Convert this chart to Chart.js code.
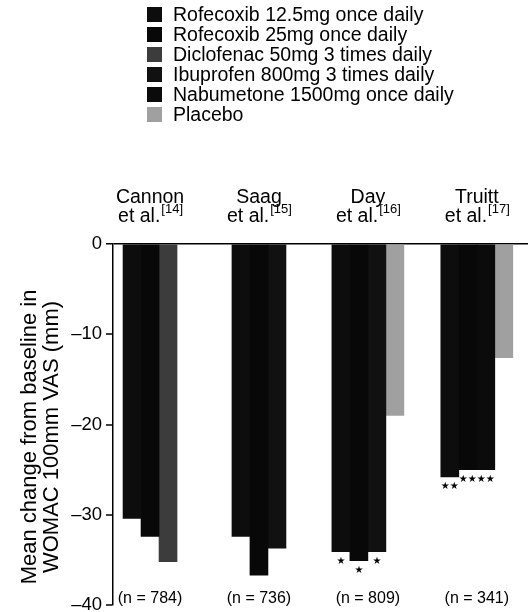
<!DOCTYPE html>
<html>
<head>
<meta charset="utf-8">
<script src="https://cdn.jsdelivr.net/npm/chart.js@4/dist/chart.umd.min.js"></script>
<style>
  html, body { margin: 0; padding: 0; background: #fff; }
  #wrap { position: relative; width: 528px; height: 612px; }
  #legend { position: absolute; left: 147px; top: 4px; font: 19.5px "Liberation Sans", Arial, sans-serif; color: #000; }
  #legend .row { display: flex; align-items: center; height: 20px; }
  #legend .sw { width: 15px; height: 15px; margin-right: 11px; }
</style>
</head>
<body>
<div id="wrap">
  <canvas id="chart" width="528" height="612"></canvas>
  <div id="legend"></div>
</div>
<script>
"use strict";

/* ─── DATA ─── */
const studies = ["Cannon", "Saag", "Day", "Truitt"];
const refs = ["[14]", "[15]", "[16]", "[17]"];
const nPatients = [784, 736, 809, 341];
const studyIndex = [0, 1, 2, 3];

const drugs = [
  "Rofecoxib 12.5mg once daily",
  "Rofecoxib 25mg once daily",
  "Diclofenac 50mg 3 times daily",
  "Ibuprofen 800mg 3 times daily",
  "Nabumetone 1500mg once daily",
  "Placebo",
];
const rofe125 = [-30.4, -32.4, -34.1, -25.8];
const rofe25 = [-32.4, -36.7, -35.1, -25.0];
const diclofenac = [-35.2, null, null, null];
const ibuprofen = [null, -33.7, -34.1, null];
const nabumetone = [null, null, null, -25.0];
const placebo = [null, null, -19.0, -12.6];

// significance marks under bars
const sigRofe125 = ["", "", "*", "**"];
const sigRofe25 = ["", "", "*", "**"];
const sigIbuprofen = ["", "", "*", ""];
const sigNabumetone = ["", "", "", "**"];

const yTicks = [0, -10, -20, -30, -40];
const yTitle = ["Mean change from baseline in", "WOMAC 100mm VAS (mm)"];

/* ─── STYLE ─── */
const FONT = "'Liberation Sans', Arial, sans-serif";
const colors = ["#0d0d0d", "#080808", "#3c3c3c", "#111111", "#0b0b0b", "#a0a0a0"];
const seriesValues = [rofe125, rofe25, diclofenac, ibuprofen, nabumetone, placebo];
const seriesSig = [sigRofe125, sigRofe25, [], sigIbuprofen, sigNabumetone, []];

/* ─── LEGEND (html) ─── */
const legendEl = document.getElementById("legend");
drugs.forEach((d, i) => {
  const row = document.createElement("div");
  row.className = "row";
  row.innerHTML = `<span class="sw" style="background:${colors[i]}"></span><span>${d}</span>`;
  legendEl.appendChild(row);
});

/* ─── ANNOTATIONS PLUGIN ─── */
const annotations = {
  id: "annotations",
  afterDatasetsDraw(chart) {
    const { ctx, scales: { x } } = chart;
    ctx.save();
    ctx.fillStyle = "#000";
    ctx.textAlign = "center";
    ctx.textBaseline = "alphabetic";
    studies.forEach((s, i) => {
      const cx = x.getPixelForValue(studyIndex[i]);
      ctx.font = "19.5px " + FONT;
      ctx.fillText(s, cx, 203);
      const main = "et al.";
      const mw = ctx.measureText(main).width;
      ctx.font = "13px " + FONT;
      const sw = ctx.measureText(refs[i]).width;
      const left = cx - (mw + sw) / 2;
      ctx.textAlign = "left";
      ctx.font = "19.5px " + FONT;
      ctx.fillText(main, left, 222);
      ctx.font = "13px " + FONT;
      ctx.fillText(refs[i], left + mw + 1, 213);
      ctx.textAlign = "center";
      ctx.font = "16px " + FONT;
      ctx.fillText("(n = " + nPatients[i] + ")", cx, 603);
    });
    // stars under significant bars
    ctx.font = "10px 'DejaVu Sans'";
    ctx.textBaseline = "middle";
    chart.data.datasets.forEach((ds, di) => {
      const sig = seriesSig[di];
      const meta = chart.getDatasetMeta(di);
      meta.data.forEach((bar, j) => {
        const mark = sig[j];
        if (!mark || seriesValues[di][j] == null) return;
        const stars = mark.length === 2 ? "★★" : "★";
        ctx.fillText(stars, bar.x, bar.y + 10);
      });
    });
    // rotated y-axis title (two lines)
    ctx.font = "22px " + FONT;
    ctx.textAlign = "center";
    yTitle.forEach((line, k) => {
      ctx.save();
      ctx.translate(30 + k * 22, 437);
      ctx.rotate(-Math.PI / 2);
      ctx.fillText(line, 0, 0);
      ctx.restore();
    });
    ctx.restore();
  },
};

/* ─── CHART ─── */
new Chart(document.getElementById("chart"), {
  type: "bar",
  data: {
    datasets: seriesValues.map((vals, i) => ({
      label: drugs[i],
      data: vals.map((v, j) => ({ x: studyIndex[j], y: v })),
      backgroundColor: colors[i],
      borderWidth: 0,
      barThickness: 18,
      skipNull: true,
    })),
  },
  options: {
    responsive: false,
    animation: false,
    layout: { padding: { top: 244, right: 0, bottom: 7, left: 0 } },
    plugins: { legend: { display: false }, tooltip: { enabled: false } },
    scales: {
      x: {
        type: "linear",
        offset: false,
        min: -0.34,
        max: 3.47,
        display: false,
      },
      y: {
        min: -40,
        max: 0,
        afterFit: s => { s.width = 113; s.paddingTop = 0; s.paddingBottom = 0; },
        afterBuildTicks: s => { s.ticks = yTicks.map(v => ({ value: v })); },
        border: { display: true, color: "#000", width: 1.5 },
        grid: {
          drawOnChartArea: true,
          color: c => (c.tick && c.tick.value === 0 ? "#000" : "rgba(0,0,0,0)"),
          lineWidth: c => (c.tick && c.tick.value === 0 ? 1.5 : 0),
          tickColor: "#000",
          tickLength: 7,
          tickWidth: 1.5,
        },
        ticks: {
          color: "#000",
          font: { family: FONT, size: 18.5 },
          padding: 4,
          callback: v => (v < 0 ? "\u2013" + Math.abs(v) : String(v)),
        },
      },
    },
  },
  plugins: [annotations],
});
</script>
</body>
</html>
